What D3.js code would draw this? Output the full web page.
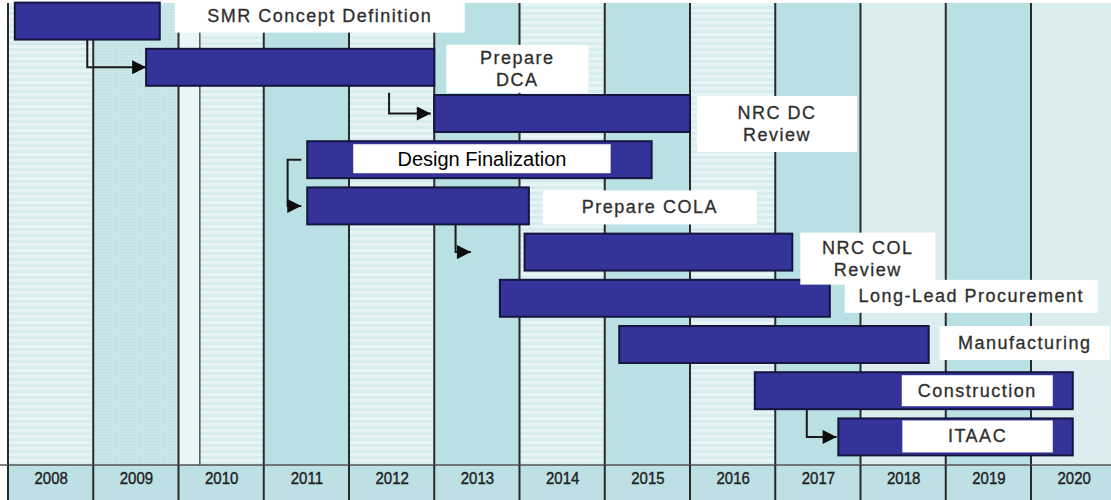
<!DOCTYPE html>
<html>
<head>
<meta charset="utf-8">
<script src="https://cdn.jsdelivr.net/npm/d3@7"></script>
<style>
  html, body { margin: 0; padding: 0; background: #ffffff; }
  svg { display: block; }
</style>
</head>
<body>
<svg id="chart" width="1111" height="500"></svg>
<script>
// ---------------- data ----------------
const yearLabels = ["2008","2009","2010","2011","2012","2013","2014","2015","2016","2017","2018","2019","2020"];
const tasks = ["SMR Concept Definition","Prepare DCA","NRC DC Review","Design Finalization","Prepare COLA",
               "NRC COL Review","Long-Lead Procurement","Manufacturing","Construction","ITAAC"];
const labelLines = [["SMR Concept Definition"],["Prepare","DCA"],["NRC DC","Review"],["Design Finalization"],
                    ["Prepare COLA"],["NRC COL","Review"],["Long-Lead Procurement"],["Manufacturing"],
                    ["Construction"],["ITAAC"]];
const starts = [2008.08, 2009.62, 2013.00, 2011.51, 2011.51, 2014.06, 2013.77, 2015.17, 2016.76, 2017.74];
const ends   = [2009.78, 2013.00, 2016.00, 2015.55, 2014.11, 2017.20, 2017.64, 2018.80, 2020.49, 2020.49];
// dependency arrows (task index from -> to), year of the vertical leg, year of arrow tip
const arrowFrom = [0, 1, 3, 4, 8];
const arrowTo   = [1, 2, 4, 5, 9];
const arrowLeg  = [2008.93, 2012.47, 2011.28, 2013.25, 2017.37];
const arrowTip  = [2009.62, 2012.96, 2011.44, 2013.43, 2017.72];
const arrowKind = ["down","down","bracket","down","down"];

// ---------------- layout / style ----------------
const W = 1111, H = 500, axisTop = 465;
const labelLayout = [
  {mode:"after", gap:15, w:290, dy:-3, h:33},
  {mode:"after", gap:12, w:142, dy:-4, h:48},
  {mode:"after", gap:7,  w:160, dy:1,  h:56},
  {mode:"inside", l:46, r:41, dy:3, h:29},
  {mode:"after", gap:14, w:214, dy:3,  h:34},
  {mode:"after", gap:8,  w:135, dy:-1, h:52},
  {mode:"after", gap:15, w:253, dy:0,  h:33},
  {mode:"after", gap:11, w:170, dy:0,  h:34},
  {mode:"inside", l:147, r:20, dy:3, h:31},
  {mode:"inside", l:64,  r:20, dy:2, h:32}
];
const colStyle = ["stripe","dots","stripe","teal","stripe","teal","stripe","teal","stripe","teal","pale","teal","pale"];

const svg = d3.select("#chart");
const x = d3.scaleLinear().domain([2008, 2021]).range([8, 8 + 13 * 85.25]);
const y = d3.scaleBand().domain(tasks).range([-2, 460]).paddingInner(0.2).paddingOuter(0.1);

// patterns
const defs = svg.append("defs");
const pStripe = defs.append("pattern").attr("id","stripe").attr("patternUnits","userSpaceOnUse")
  .attr("width",6).attr("height",6);
pStripe.append("rect").attr("width",6).attr("height",6).attr("fill","#e6f4f5");
pStripe.append("rect").attr("width",6).attr("height",3).attr("fill","#d6ecee");
const pDots = defs.append("pattern").attr("id","dots").attr("patternUnits","userSpaceOnUse")
  .attr("width",3).attr("height",3);
pDots.append("rect").attr("width",3).attr("height",3).attr("fill","#c9e6e9");
pDots.append("rect").attr("width",1).attr("height",1).attr("fill","#b6dce0");
defs.append("marker").attr("id","head").attr("viewBox","0 0 10 10").attr("refX",10).attr("refY",5)
  .attr("markerWidth",17).attr("markerHeight",14).attr("markerUnits","userSpaceOnUse").attr("orient","auto")
  .append("path").attr("d","M0,0L10,5L0,10Z").attr("fill","#0d0d0d");

const fillFor = s => s === "teal" ? "#b9e0e3" : s === "stripe" ? "url(#stripe)" : s === "dots" ? "url(#dots)" : "#dcedf0";

// columns
const colX1 = i => i === yearLabels.length - 1 ? W : x(2009 + i);
svg.append("g").selectAll("rect").data(yearLabels).join("rect")
  .attr("x", (d,i) => x(2008 + i)).attr("y", 0)
  .attr("width", (d,i) => colX1(i) - x(2008 + i)).attr("height", axisTop)
  .attr("fill", (d,i) => fillFor(colStyle[i]));
// narrow light strip in 2010 column
svg.append("rect").attr("x", x(2010)).attr("y", 0).attr("width", x(2010.25) - x(2010)).attr("height", axisTop)
  .attr("fill", "#e9f6f7");

// grid lines
const bounds = d3.range(2008, 2021);
svg.append("g").selectAll("line").data(bounds).join("line")
  .attr("x1", d => x(d)).attr("x2", d => x(d)).attr("y1", 0).attr("y2", axisTop)
  .attr("stroke", "#2a2a2a").attr("stroke-width", 2);
svg.append("line").attr("x1", x(2010.25)).attr("x2", x(2010.25)).attr("y1", 0).attr("y2", axisTop)
  .attr("stroke", "#555").attr("stroke-width", 1.5);
// thin white band along the top
svg.append("rect").attr("x", 0).attr("y", 0).attr("width", W).attr("height", 3).attr("fill", "#fff");

// axis band
svg.append("rect").attr("x", x(2008)).attr("y", axisTop).attr("width", W - x(2008)).attr("height", H - axisTop)
  .attr("fill", "#bde0e4");
svg.append("line").attr("x1", 0).attr("x2", W).attr("y1", axisTop).attr("y2", axisTop)
  .attr("stroke", "#555").attr("stroke-width", 1.5);
svg.append("g").selectAll("line").data(bounds).join("line")
  .attr("x1", d => x(d)).attr("x2", d => x(d)).attr("y1", axisTop).attr("y2", H)
  .attr("stroke", "#2a2a2a").attr("stroke-width", 2);
const axis = d3.axisBottom(x).tickValues(bounds.map(b => b + 0.5))
  .tickFormat((d,i) => yearLabels[i]).tickSize(0).tickPadding(0);
const ax = svg.append("g").attr("transform", `translate(0,${axisTop + 7})`).call(axis);
ax.select(".domain").remove();
ax.selectAll("text").attr("font-family","Liberation Sans, Arial, sans-serif").attr("font-size",15)
  .attr("fill","#222").attr("stroke","#222").attr("stroke-width",0.35)
  .attr("dy","0.71em").attr("transform","scale(1,1.15)");

// arrows
const barTop = i => y(tasks[i]);
const barBot = i => y(tasks[i]) + y.bandwidth();
const barMid = i => y(tasks[i]) + y.bandwidth() / 2;
const arrows = arrowFrom.map((f,k) => ({f, t: arrowTo[k], leg: arrowLeg[k], tip: arrowTip[k], kind: arrowKind[k]}));
svg.append("g").selectAll("path").data(arrows).join("path")
  .attr("d", a => {
    const lx = x(a.leg), tx = x(a.tip), ty = barMid(a.t);
    if (a.kind === "bracket") {
      const sy = barMid(a.f);
      return `M${x(starts[a.f]) - 6},${sy}H${lx}V${ty}H${tx}`;
    }
    const sy = barBot(a.f) + (a.f === 1 ? 7 : 0);
    return `M${lx},${sy}V${ty}H${tx}`;
  })
  .attr("fill","none").attr("stroke","#1a1a1a").attr("stroke-width",2)
  .attr("marker-end","url(#head)");

// bars
svg.append("g").selectAll("rect").data(tasks).join("rect")
  .attr("x", (d,i) => x(starts[i])).attr("y", d => y(d))
  .attr("width", (d,i) => x(ends[i]) - x(starts[i])).attr("height", y.bandwidth())
  .attr("fill", "#333399").attr("stroke", "#15153f").attr("stroke-width", 2);

// label boxes
const boxes = tasks.map((d,i) => {
  const L = labelLayout[i];
  let bx0, bx1;
  if (L.mode === "after") { bx0 = x(ends[i]) + L.gap; bx1 = bx0 + L.w; }
  else { bx0 = x(starts[i]) + L.l; bx1 = x(ends[i]) - L.r; }
  const by = barTop(i) + L.dy;
  return {i, bx0, bx1, by, h: L.h, lines: labelLines[i], inside: L.mode === "inside"};
});
svg.append("g").selectAll("rect").data(boxes).join("rect")
  .attr("x", b => b.bx0).attr("y", b => b.by).attr("width", b => b.bx1 - b.bx0).attr("height", b => b.h)
  .attr("fill", "#ffffff");

const tg = svg.append("g");
boxes.forEach(b => {
  const cx = (b.bx0 + b.bx1) / 2, cy = b.by + b.h / 2;
  const n = b.lines.length;
  const isDF = b.i === 3;
  b.lines.forEach((ln, j) => {
    tg.append("text").attr("x", cx).attr("y", cy + (j - (n - 1) / 2) * 22)
      .attr("text-anchor", "middle").attr("dominant-baseline", "central")
      .attr("font-family", "Liberation Sans, Arial, sans-serif")
      .attr("font-size", isDF ? 20 : 18)
      .attr("letter-spacing", isDF ? 0 : 1.5)
      .attr("fill", isDF ? "#000" : "#2e2e2e")
      .attr("stroke", isDF ? "none" : "#2e2e2e").attr("stroke-width", isDF ? 0 : 0.3)
      .text(ln);
  });
});
</script>
</body>
</html>
